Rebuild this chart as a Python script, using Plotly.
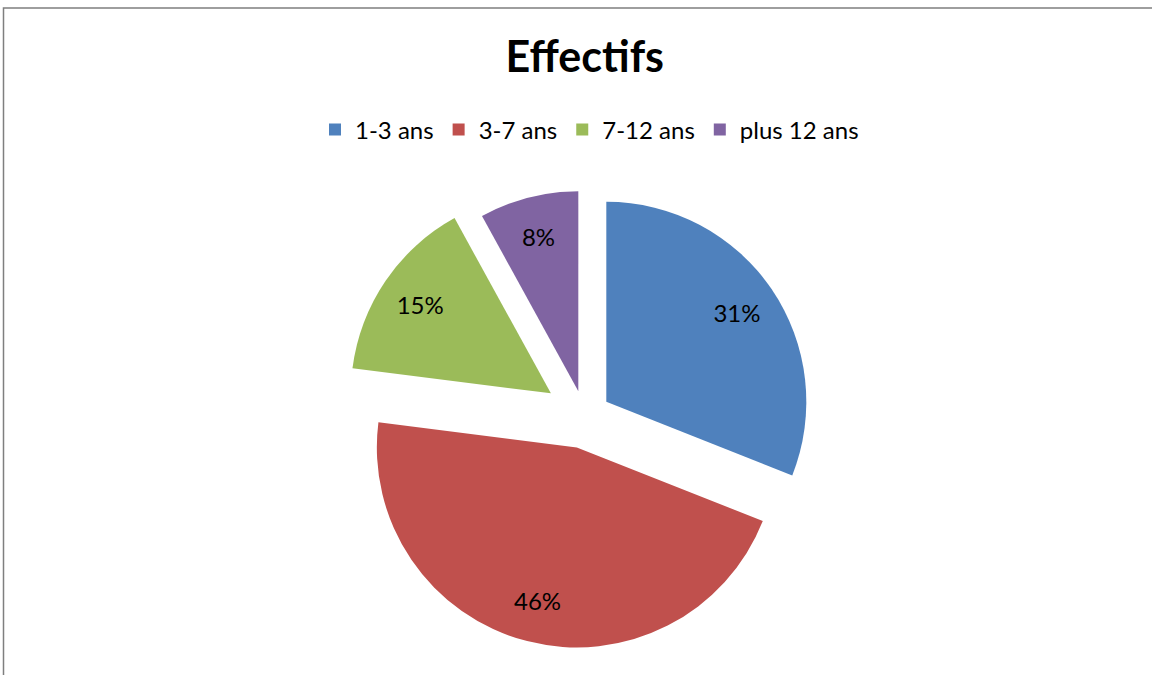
import plotly.graph_objects as go

categories = ["1-3 ans", "3-7 ans", "7-12 ans", "plus 12 ans"]
values = [31, 46, 15, 8]
colors = ["#4F81BD", "#C0504D", "#9BBB59", "#8064A2"]
pulls = [0.13, 0.16, 0.205, 0.13]

W, H = 1152, 675
cx, cy = 584.8, 416.4
r = 200
maxpull = max(pulls)
half = r * (1 + maxpull)
domain = dict(x=[cx / W - 0.49, cx / W + 0.49],
              y=[1 - (cy + half) / H, 1 - (cy - half) / H])

common = dict(labels=categories, values=values, pull=pulls, sort=False,
              direction="clockwise", rotation=0, domain=domain)

fig = go.Figure()
# Filled slices (no text)
fig.add_trace(go.Pie(
    marker=dict(colors=colors),
    textinfo="none",
    hoverinfo="label+percent",
    **common,
))
# Transparent ring carrying the percentage labels at ~0.8 of the radius
fig.add_trace(go.Pie(
    marker=dict(colors=["rgba(0,0,0,0)"] * len(values)),
    hole=0.58,
    texttemplate="%{percent:.0%}",
    textposition="inside",
    insidetextorientation="horizontal",
    textfont=dict(family="Lato", size=24, color="#000000"),
    hoverinfo="skip",
    showlegend=False,
    **common,
))

fig.update_layout(
    width=W, height=H,
    margin=dict(l=0, r=0, t=0, b=0),
    paper_bgcolor="white",
    font=dict(family="Lato", color="#000000"),
    title=dict(text="<b>Effectifs</b>", x=cx / W, xanchor="center",
               y=1 - 57 / H, yanchor="middle", yref="container",
               font=dict(family="Lato", size=43, color="#000000")),
    legend=dict(orientation="h", x=589.5 / W, xanchor="center",
                y=1 - 130 / H, yanchor="middle",
                font=dict(family="Lato", size=24, color="#000000"),
                itemwidth=30, traceorder="normal"),
    shapes=[dict(type="rect", xref="paper", yref="paper",
                 x0=3.5 / W, x1=1.02, y0=-0.02, y1=1 - 8 / H,
                 line=dict(color="#7F7F7F", width=1.5), layer="below")],
)

fig.write_html("out.html")
